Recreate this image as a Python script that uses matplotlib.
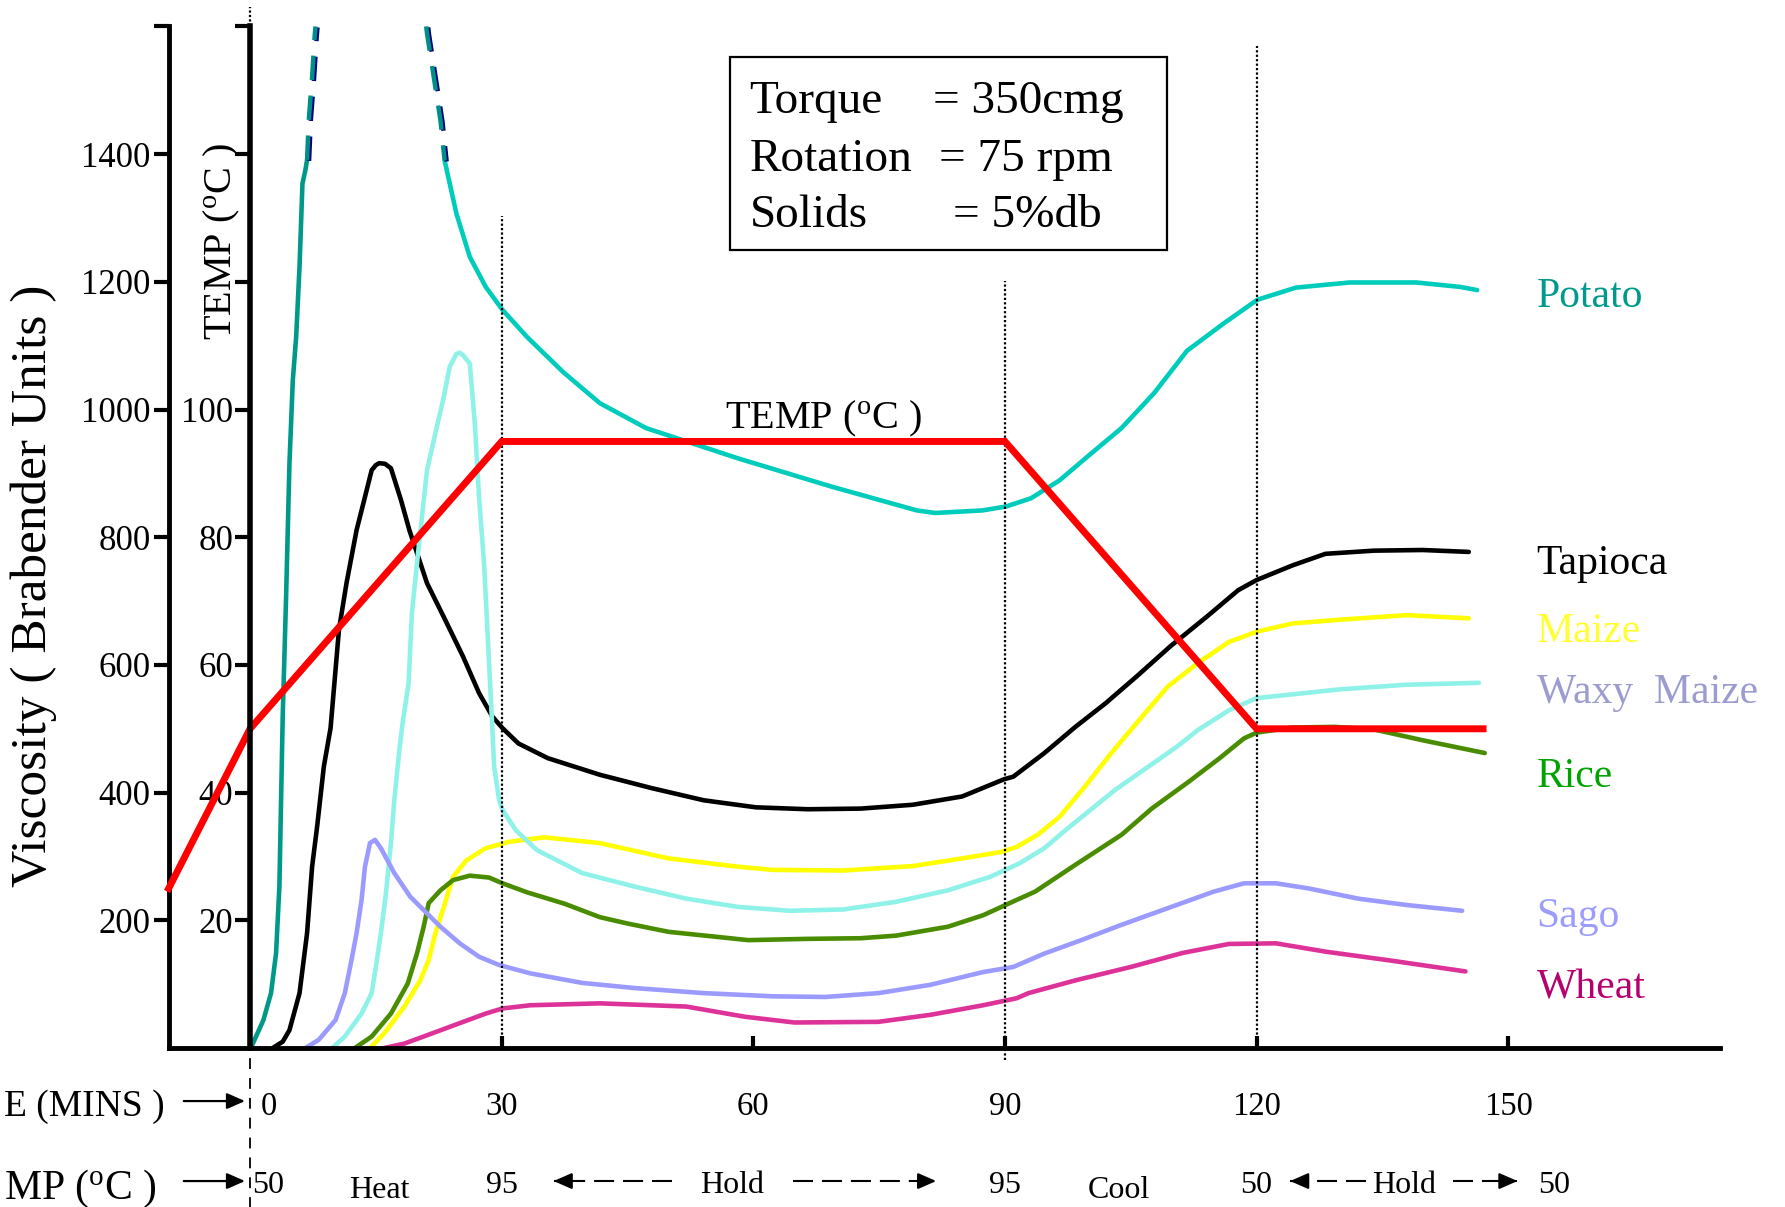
import numpy as np
import matplotlib.pyplot as plt
from matplotlib import transforms
from matplotlib.patches import Rectangle

plt.rcParams['font.family'] = ['Liberation Serif', 'DejaVu Serif']
plt.rcParams['mathtext.fontset'] = 'custom'
plt.rcParams['mathtext.rm'] = 'Liberation Serif'
plt.rcParams['mathtext.it'] = 'Liberation Serif:italic'

# ---- data: time (min) vs viscosity (Brabender units) ----
potato_rise_t = [0.1, 1.6, 2.5, 3.1, 3.5, 3.7, 3.9, 4.3, 4.7, 5.1, 5.5, 5.9, 6.25, 6.6, 6.8]
potato_rise_v = [0, 44, 86, 148, 253, 388, 522, 707, 916, 1046, 1114, 1224, 1354, 1375, 1391]
potato_rise_off_t = [6.8, 7.0, 7.4, 7.7, 7.8]
potato_rise_off_v = [1391, 1453, 1521, 1584, 1600]
potato_fall_off_t = [21.0, 21.1, 21.9, 22.7, 23.2]
potato_fall_off_v = [1600, 1589, 1521, 1453, 1390]
potato_fall_t = [23.2, 24.6, 26.2, 28.1, 30.1, 33.0, 37.3, 41.7, 47.2, 58.3, 69.4, 79.5, 81.7, 87.3,
                 90.1, 93.1, 96.5, 99.9, 103.9, 107.8, 111.7, 116.2, 120.1, 124.7, 131.1, 139.0, 144.3, 146.3]
potato_fall_v = [1390, 1307, 1239, 1192, 1156, 1114, 1059, 1010, 971, 923, 879, 842, 838, 842,
                 848, 861, 889, 927, 971, 1026, 1092, 1136, 1172, 1191, 1199, 1199, 1192, 1187]

tapioca_t = [2.7, 3.9, 4.7, 5.9, 6.8, 7.4, 8.0, 8.8, 9.6, 10.6,
             11.5, 12.7, 13.7, 14.5, 15.0, 15.4, 16.1, 16.8, 18.0, 19.0, 21.1, 23.1,
             25.4, 27.3, 28.9, 30.1, 32.0, 35.5, 41.7, 47.9, 54.1, 60.3,
             66.5, 72.8, 79.0, 84.9, 89.9, 91.0, 94.7, 98.4, 102.0, 105.7,
             109.7, 114.1, 117.8, 120.0, 124.3, 128.2, 134.0, 139.8, 145.3]
tapioca_v = [0, 10, 28, 86, 180, 284, 347, 441, 501, 655,
             728, 811, 863, 905, 913, 916, 915, 908, 858, 811, 728, 675,
             613, 556, 519, 501, 477, 454, 428, 407, 388, 377,
             374, 375, 381, 394, 421, 425, 462, 503, 540, 582,
             629, 676, 717, 733, 756, 774, 779, 780, 777]

maize_t = [14.3, 16.0, 18.4, 20.3, 21.3, 22.1, 23.1, 24.2, 25.8, 28.1,
           30.9, 35.1, 41.7, 49.9, 58.2, 62.3, 70.7, 79.0, 84.9, 89.5,
           91.4, 93.9, 96.5, 99.5, 102.8, 105.7, 109.4, 113.0, 116.7, 120.0,
           124.3, 130.1, 137.9, 145.3]
maize_v = [0, 23, 65, 106, 138, 180, 221, 268, 294, 313,
           323, 330, 321, 297, 284, 279, 278, 285, 297, 307,
           315, 334, 362, 409, 464, 509, 566, 603, 636, 652,
           665, 671, 678, 673]

waxy_t = [9.8, 11.3, 13.3, 14.5, 15.0, 15.6, 16.2, 16.8, 17.2, 17.8,
          18.2, 18.9, 19.3, 19.9, 20.5, 21.1, 22.1, 23.1, 23.8, 24.6, 25.0,
          25.4, 26.2, 26.8, 27.3, 27.9, 28.3, 28.7, 28.9, 29.1, 29.7,
          30.1, 30.9, 31.7, 34.2, 39.6, 45.8, 52.0, 58.2, 64.4, 70.7,
          77.0, 83.2, 88.2, 91.7, 94.7, 97.2, 100.2, 103.1, 106.8, 110.5,
          113.0, 116.7, 120.0, 124.3, 130.1, 137.9, 146.5]
waxy_v = [0, 18, 54, 86, 127, 180, 242, 321, 388, 467,
          510, 571, 681, 759, 832, 905, 963, 1020, 1067, 1087, 1089,
          1085, 1072, 978, 863, 759, 655, 550, 498, 441, 388,
          373, 357, 341, 310, 274, 253, 234, 221, 215, 217,
          229, 247, 268, 289, 313, 341, 373, 404, 438, 472,
          498, 529, 548, 554, 562, 569, 572]

rice_t = [12.5, 14.5, 16.8, 18.8, 19.9, 20.7, 21.3, 22.7, 24.2, 26.2,
          28.5, 30.1, 33.0, 37.5, 41.7, 45.0, 49.9, 59.4, 66.5, 72.8,
          77.0, 83.2, 87.4, 91.4, 93.6, 98.4, 103.9, 107.5, 111.9, 115.6,
          118.5, 120.0, 124.3, 129.3, 134.0, 139.8, 147.2]
rice_v = [0, 18, 54, 101, 148, 190, 227, 247, 263, 270,
          267, 258, 244, 226, 205, 195, 182, 169, 171, 172,
          176, 190, 208, 232, 245, 287, 334, 375, 417, 454,
          485, 494, 502, 503, 499, 482, 462]

sago_t = [6.6, 8.2, 10.2, 11.3, 12.1, 12.7, 13.3, 13.7, 14.3, 14.9,
          15.6, 17.2, 19.1, 22.7, 25.0, 27.3, 29.7, 33.4, 39.6, 45.8,
          54.1, 62.3, 68.6, 74.9, 81.1, 87.4, 91.0, 94.7, 99.1, 103.9,
          109.4, 114.9, 118.5, 122.3, 126.2, 132.1, 137.9, 144.5]
sago_v = [0, 13, 44, 86, 138, 180, 232, 284, 321, 326,
          313, 274, 237, 190, 164, 143, 130, 117, 102, 94,
          86, 81, 80, 86, 99, 119, 127, 148, 169, 193,
          219, 245, 258, 258, 250, 234, 224, 215]

wheat_t = [16.0, 18.4, 21.1, 25.0, 28.1, 30.1, 33.4, 41.7, 52.0, 59.0,
           64.9, 74.9, 81.1, 87.4, 91.4, 92.8, 98.4, 105.0, 111.2, 116.7,
           122.3, 128.2, 136.0, 144.9]
wheat_v = [0, 7, 20, 39, 54, 62, 67, 70, 65, 49,
           40, 41, 52, 67, 78, 86, 106, 127, 149, 163,
           164, 151, 137, 120]

# temperature programme (deg C)
temp_t = [-9.7, 0, 30, 90, 120, 147]
temp_c = [25, 50, 95, 95, 50, 50]

labels = ['Potato', 'Tapioca', 'Maize', 'Waxy  Maize', 'Rice', 'Sago', 'Wheat']
label_v = [1161, 742, 636, 540, 409, 190, 78]
label_col = ['#009a8c', '#000000', '#ffff33', '#9c9cd0', '#00a400', '#9c9cff', '#b5006e']

time_ticks = [30, 60, 90, 120, 150]

# ---- figure ----
fig = plt.figure(figsize=(17.85, 12.07), dpi=100)
ax = fig.add_axes([0.0944, 0.1317, 0.8692, 0.8464])
ax.set_xlim(-9.72, 175.25)
ax.set_ylim(0, 1600)
ax.spines['top'].set_visible(False)
ax.spines['right'].set_visible(False)
ax.spines['left'].set_linewidth(3.5)
ax.spines['bottom'].set_linewidth(3.5)
ax.set_yticks(range(200, 1601, 200))
ax.set_yticklabels([str(v) for v in range(200, 1401, 200)] + [''])
ax.tick_params(axis='y', direction='out', length=11, width=3, pad=2, labelsize=25)
ax.set_xticks(time_ticks)
ax.set_xticklabels([])
ax.tick_params(axis='x', direction='in', length=8.5, width=3)

lw = 3.3
smooth = dict(lw=lw, solid_joinstyle='round', solid_capstyle='round')
ax.plot(potato_rise_t, potato_rise_v, color='#009988', **smooth)
ax.plot(potato_fall_t, potato_fall_v, color='#00ccbb', **smooth)
shadow = transforms.offset_copy(ax.transData, fig=fig, x=2, y=-1, units='dots')
for tt, vv in [(potato_rise_off_t, potato_rise_off_v), (potato_fall_off_t, potato_fall_off_v)]:
    ax.plot(tt, vv, color='#000080', lw=3.2, ls=(0, (5.5, 3.5)), transform=shadow, clip_on=False)
    ax.plot(tt, vv, color='#008f84', lw=3.2, ls=(0, (5.5, 3.5)), clip_on=False)
ax.plot(tapioca_t, tapioca_v, color='#000000', **smooth)
ax.plot(maize_t, maize_v, color='#ffff00', **smooth)
ax.plot(waxy_t, waxy_v, color='#8ff2e8', **smooth)
ax.plot(rice_t, rice_v, color='#4a8c00', **smooth)
ax.plot(sago_t, sago_v, color='#9b9bff', **smooth)
ax.plot(wheat_t, wheat_v, color='#dd3399', **smooth)

# phase boundaries
dot = (0, (1, 1))
ax.plot([30, 30], [0, 1303], color='k', lw=1.6, ls=dot)
ax.plot([90, 90], [-19, 1201], color='k', lw=1.6, ls=dot, clip_on=False)
ax.plot([120, 120], [0, 1570], color='k', lw=1.6, ls=dot)
ax.plot([0, 0], [1600, 1630], color='k', lw=1.6, ls=dot, clip_on=False)
ax.plot([0, 0], [-250, 0], color='k', lw=1.3, ls=(0, (6, 5)), clip_on=False)

# temperature axis at t = 0
ax2 = ax.twinx()
ax2.set_ylim(0, 160)
for s in ['top', 'right', 'bottom']:
    ax2.spines[s].set_visible(False)
ax2.spines['left'].set_position(('data', 0))
ax2.spines['left'].set_linewidth(4)
ax2.yaxis.tick_left()
ax2.set_yticks(range(20, 161, 20))
ax2.set_yticklabels([str(v) for v in range(20, 101, 20)] + ['', '', ''])
ax2.tick_params(axis='y', direction='out', length=11, width=3, pad=1, labelsize=25)
ax2.plot(temp_t, temp_c, color='#ff0000', lw=5, solid_joinstyle='miter', clip_on=False)

# labels for the curves
for name, v, c in zip(labels, label_v, label_col):
    ax.text(153.4, v, name, color=c, fontsize=30, va='baseline', ha='left')

# info box
ax.add_patch(Rectangle((0.3617, 0.7807), 0.2818, 0.1895, transform=ax.transAxes,
                       fill=False, lw=1.6, clip_on=False))
box_rows = [('Torque', '= 350cmg', 0.9152, 0.4925),
            ('Rotation', '= 75 rpm', 0.8586, 0.4968),
            ('Solids', '= 5%db', 0.8038, 0.5054)]
for left, right, y, xr in box_rows:
    ax.text(0.3745, y, left, transform=ax.transAxes, fontsize=34, va='baseline')
    ax.text(xr, y, right, transform=ax.transAxes, fontsize=34, va='baseline')

ax.text(0.3587, 0.6069, 'TEMP ($\\mathregular{^o}$C )', transform=ax.transAxes,
        fontsize=29, va='baseline')
ax.text(0.0345, 0.789, 'TEMP ($\\mathregular{^o}$C )', transform=ax.transAxes,
        fontsize=29, rotation=90, ha='center', va='center')
fig.text(0.019, 0.5145, 'Viscosity ( Brabender Units )', rotation=90,
         ha='center', va='center', fontsize=37)

# time / temperature rows under the axis
xt = ax.get_xaxis_transform()
row1, row2, row2b, arr1, arr2 = -0.0656, -0.1419, -0.1468, -0.0519, -0.1302
ax.text(2.2, row1, '0', transform=xt, ha='center', va='baseline', fontsize=23.5)
for t in time_ticks:
    ax.text(t, row1, str(t), transform=xt, ha='center', va='baseline', fontsize=23.5)

row2_items = [(2.2, '50', row2), (15.4, 'Heat', row2b), (30, '95', row2), (57.5, 'Hold', row2),
              (90, '95', row2), (103.6, 'Cool', row2b), (120, '50', row2), (137.6, 'Hold', row2),
              (155.5, '50', row2)]
for t, s, y in row2_items:
    ax.text(t, y, s, transform=xt, ha='center', va='baseline', fontsize=23)

fig.text(0.002, 0.0759, 'E (MINS )', fontsize=27, va='baseline', ha='left')
fig.text(0.002, 0.0066, 'MP ($\\mathregular{^o}$C )', fontsize=30, va='baseline', ha='left')

head = dict(arrowstyle='-|>,head_length=0.5,head_width=0.22', color='k', lw=1.6,
            mutation_scale=22, shrinkA=0, shrinkB=0)
for y in [arr1, arr2]:
    ax.annotate('', xy=(-0.6, y), xytext=(-7.9, y), xycoords=xt, textcoords=xt,
                arrowprops=head, annotation_clip=False)

dash = (0, (9.6, 4.3))
# (tip, tail) of the dashed hold arrows
hold_arrows = [(36.2, 50.3), (81.8, 64.7), (124.0, 133.0), (151.1, 143.4)]
for tip, tail in hold_arrows:
    ax.plot([tail, tip], [arr2, arr2], transform=xt, color='k', lw=1.5, ls=dash, clip_on=False)
    back = tip + (2.0 if tail > tip else -2.0)
    ax.annotate('', xy=(tip, arr2), xytext=(back, arr2), xycoords=xt, textcoords=xt,
                arrowprops=head, annotation_clip=False)

fig.savefig('out.png', dpi=100)
